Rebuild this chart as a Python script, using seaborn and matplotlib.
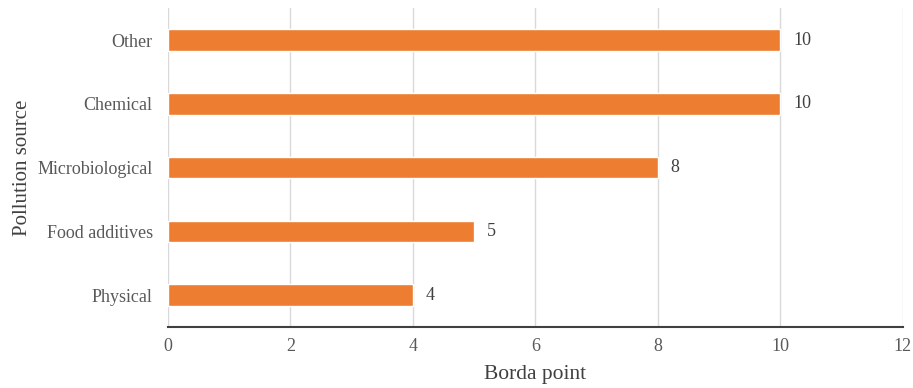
import matplotlib
matplotlib.use("Agg")
import matplotlib.pyplot as plt
import seaborn as sns
import pandas as pd

categories = ["Other", "Chemical", "Microbiological", "Food additives", "Physical"]
values = [10, 10, 8, 5, 4]
xticks = [0, 2, 4, 6, 8, 10, 12]

sns.set_theme(style="white")
plt.rcParams['font.family'] = ['Liberation Serif', 'DejaVu Serif']

df = pd.DataFrame({"source": categories, "points": values})

fig = plt.figure(figsize=(9.13, 3.88), dpi=100)
ax = fig.add_axes([0.184, 0.157, 0.805, 0.822])
sns.barplot(data=df, y="source", x="points", order=categories, color="#ED7D31",
            width=0.34, saturation=1, ax=ax, zorder=3)

ax.set_xlim(0, 12)
ax.set_ylim(4.5, -0.5)
ax.set_xticks(xticks)
ax.set_xticklabels([str(t) for t in xticks])
ax.grid(axis="x", color="#D9D9D9", linewidth=1, zorder=0)
ax.grid(axis="y", visible=False)
for s in ["top", "right", "left"]:
    ax.spines[s].set_visible(False)
ax.spines["bottom"].set_color("#404040")
ax.spines["bottom"].set_linewidth(1.5)
ax.tick_params(axis="y", length=0, labelsize=13, colors="#595959", pad=11)
ax.tick_params(axis="x", length=0, labelsize=13, colors="#595959", pad=8)
ax.set_xlabel("Borda point", fontsize=15.5, color="#404040", labelpad=7)
ax.set_ylabel("Pollution source", fontsize=15, color="#404040", labelpad=4)

for c in ax.containers:
    ax.bar_label(c, labels=[str(v) for v in values], padding=9, fontsize=13, color="#404040")

fig.savefig("out.png", dpi=100)
